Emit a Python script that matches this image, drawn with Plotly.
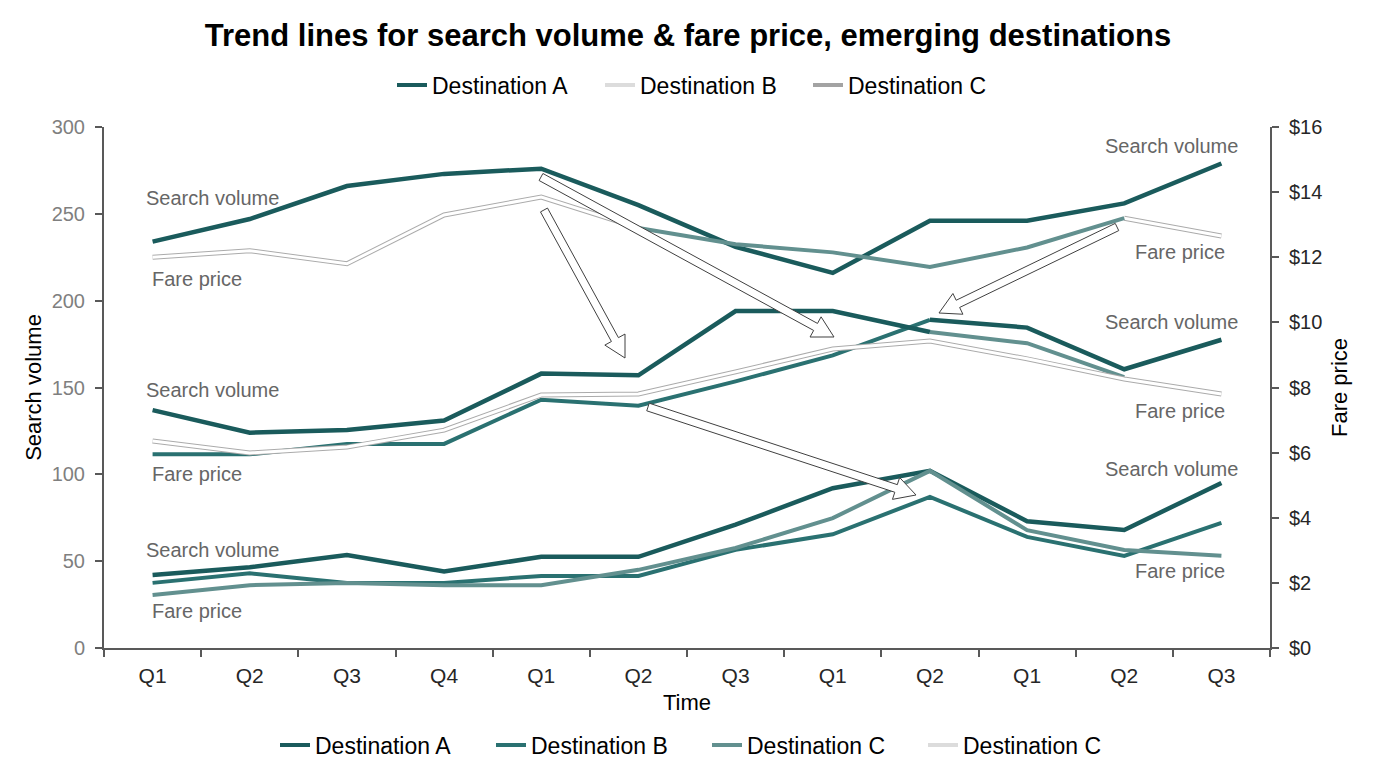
import plotly.graph_objects as go

# quarters along the x axis (three years of partial data)
quarters = ["Q1", "Q2", "Q3", "Q4", "Q1", "Q2", "Q3", "Q1", "Q2", "Q1", "Q2", "Q3"]

# top group
top_search = [234, 247, 266, 273, 276, 255, 231, 216, 246, 246, 256, 279]
top_fare = [12.0, 12.2, 11.8, 13.3, 13.85, 12.9, 12.4, 12.15, 11.7, 12.3, 13.2, 12.65]

# middle group
mid_search = [137, 124, 125.5, 131, 158, 157, 194, 194, 182, 175.5, 156, None]
mid_b = [111.5, 111.5, 117.5, 117.5, 143, 139.5, 153.5, 168.5, 189, 184.5, 160.5, 177.5]
mid_fare = [6.36, 5.99, 6.17, 6.69, 7.77, 7.8, 8.48, 9.18, 9.43, 8.88, 8.26, 7.8]

# bottom group
bot_search = [42, 46.5, 53.5, 44, 52.5, 52.5, 71, 92, 102, 73, 68, 95]
bot_b = [37.5, 43, 37.5, 37.5, 41.5, 41.5, 56.5, 65.5, 87, 64, 53, 72]
bot_fare = [1.63, 1.93, 2.0, 1.93, 1.93, 2.4, 3.07, 3.99, 5.44, 3.62, 3.01, 2.83]

fare_ticks = list(range(0, 17, 2))

DARK = "#1a5b5c"
TEAL = "#2a7171"
GTEAL = "#62908f"
EDGE = "#ababab"
AXIS = "#595959"
FONT = "Liberation Sans, Arial, sans-serif"

x = list(range(len(quarters)))


def seg(values, lo, hi):
    return [v if lo <= i <= hi else None for i, v in enumerate(values)]


fig = go.Figure()


def line(y, color, width, axis="y"):
    fig.add_trace(go.Scatter(
        x=x, y=y, mode="lines", yaxis=axis,
        line=dict(color=color, width=width),
        showlegend=False, hoverinfo="skip",
    ))


def outlined(y, axis="y"):
    line(y, EDGE, 5, axis)
    line(y, "white", 3, axis)


# bottom group
line(bot_fare, GTEAL, 4, "y2")
line(bot_b, TEAL, 4)
line(bot_search, DARK, 4.5)

# middle group
outlined(mid_fare, "y2")
line(seg(mid_b, 0, 8), TEAL, 4)
line(seg(mid_search, 8, 10), GTEAL, 4)
line(seg(mid_search, 0, 8), DARK, 4.5)
line(seg(mid_b, 8, 11), DARK, 4.5)

# top group
outlined(seg(top_fare, 0, 5), "y2")
outlined(seg(top_fare, 10, 11), "y2")
line(seg(top_fare, 5, 10), GTEAL, 4, "y2")
line(top_search, DARK, 4.5)

# legend entries
for name, color, lg in [
    ("Destination A", DARK, "legend"),
    ("Destination B", "#dcdcdc", "legend"),
    ("Destination C", "#a3a3a3", "legend"),
    ("Destination A", DARK, "legend2"),
    ("Destination B", TEAL, "legend2"),
    ("Destination C", GTEAL, "legend2"),
    ("Destination C", "#dcdcdc", "legend2"),
]:
    fig.add_trace(go.Scatter(x=[None], y=[None], mode="lines", name=name,
                             line=dict(color=color, width=4), legend=lg))

# page offset of the figure (default body margin) and plot box in page pixels
OFF = 8
W, H = 1360, 752
PL, PR, PT, PB = 104, 1270, 127, 648


def fx(px):
    return (px - PL) / (PR - PL)


def fy(py):
    return (PB - py) / (PB - PT)


def block_arrow(x0, y0, x1, y1, shaft=8, head_w=23, head_l=21):
    dx, dy = x1 - x0, y1 - y0
    n = (dx * dx + dy * dy) ** 0.5
    ux, uy = dx / n, dy / n
    px_, py_ = -uy, ux
    bx, by = x1 - ux * head_l, y1 - uy * head_l
    pts = [
        (x0 + px_ * shaft / 2, y0 + py_ * shaft / 2),
        (bx + px_ * shaft / 2, by + py_ * shaft / 2),
        (bx + px_ * head_w / 2, by + py_ * head_w / 2),
        (x1, y1),
        (bx - px_ * head_w / 2, by - py_ * head_w / 2),
        (bx - px_ * shaft / 2, by - py_ * shaft / 2),
        (x0 - px_ * shaft / 2, y0 - py_ * shaft / 2),
    ]
    path = "M " + " L ".join(f"{fx(a):.5f},{fy(b):.5f}" for a, b in pts) + " Z"
    return dict(type="path", xref="paper", yref="paper", path=path,
                fillcolor="white", line=dict(color="#404040", width=1))


arrows = [
    (541, 177, 834, 337),
    (544, 210, 625, 358),
    (1117, 227, 939, 313),
    (648, 407, 916, 495),
]
for a in arrows:
    fig.add_shape(**block_arrow(*a))

# series labels
labels = [
    ("Search volume", 144, 198, "left"),
    ("Fare price", 150, 279, "left"),
    ("Search volume", 144, 390, "left"),
    ("Fare price", 150, 474, "left"),
    ("Search volume", 144, 550, "left"),
    ("Fare price", 150, 611, "left"),
    ("Search volume", 1240, 146, "right"),
    ("Fare price", 1227, 252, "right"),
    ("Search volume", 1240, 322, "right"),
    ("Fare price", 1227, 411, "right"),
    ("Search volume", 1240, 469, "right"),
    ("Fare price", 1227, 571, "right"),
]
for text, px, py, anchor in labels:
    fig.add_annotation(text=text, xref="paper", yref="paper", x=fx(px), y=fy(py),
                       xanchor=anchor, yanchor="middle", showarrow=False,
                       font=dict(size=20, color="#666666"))

axis_common = dict(showline=True, linecolor=AXIS, linewidth=2, showgrid=False,
                   zeroline=False, ticks="outside", ticklen=7, tickwidth=2,
                   tickcolor=AXIS)

fig.update_layout(
    width=W, height=H,
    paper_bgcolor="white", plot_bgcolor="white",
    margin=dict(l=PL - OFF, r=W + OFF - PR, t=PT - OFF, b=H + OFF - PB,
                autoexpand=False),
    font=dict(family=FONT, size=20, color="#262626"),
    title=dict(text="<b>Trend lines for search volume & fare price, emerging destinations</b>",
               x=(688 - OFF) / W, xanchor="center", y=1 - (35 - OFF) / H, yanchor="middle",
               font=dict(family=FONT, size=31, color="black")),
    xaxis=dict(
        range=[-0.5, 11.5], tickvals=x, ticktext=quarters,
        showline=True, linecolor=AXIS, linewidth=2, showgrid=False, zeroline=False,
        ticks="", ticklabelstandoff=8, tickfont=dict(size=21, color="#262626"),
        minor=dict(tickmode="array", tickvals=[i - 0.5 for i in range(13)],
                   ticks="outside", ticklen=7, tickwidth=2, tickcolor=AXIS),
        title=dict(text="Time", font=dict(size=22, color="black"), standoff=8),
    ),
    yaxis=dict(
        range=[0, 300], dtick=50, tickfont=dict(size=20, color="#7f7f7f"),
        ticklabelstandoff=6,
        title=dict(text="Search volume", font=dict(size=22, color="black"), standoff=4),
        **axis_common,
    ),
    yaxis2=dict(
        range=[0, 16], tickvals=fare_ticks, ticktext=[f"${v}" for v in fare_ticks],
        overlaying="y", side="right", tickfont=dict(size=20, color="#262626"),
        ticklabelstandoff=6,
        title=dict(text="Fare price", font=dict(size=22, color="black"), standoff=10),
        **axis_common,
    ),
    legend=dict(orientation="h", x=fx(704), xanchor="center", y=fy(85), yanchor="middle",
                entrywidth=163, font=dict(size=23, color="black"),
                bgcolor="rgba(0,0,0,0)"),
    legend2=dict(orientation="h", x=fx(707), xanchor="center", y=fy(745), yanchor="middle",
                 entrywidth=171, font=dict(size=23, color="black"),
                 bgcolor="rgba(0,0,0,0)"),
)

fig.write_html("out.html")
